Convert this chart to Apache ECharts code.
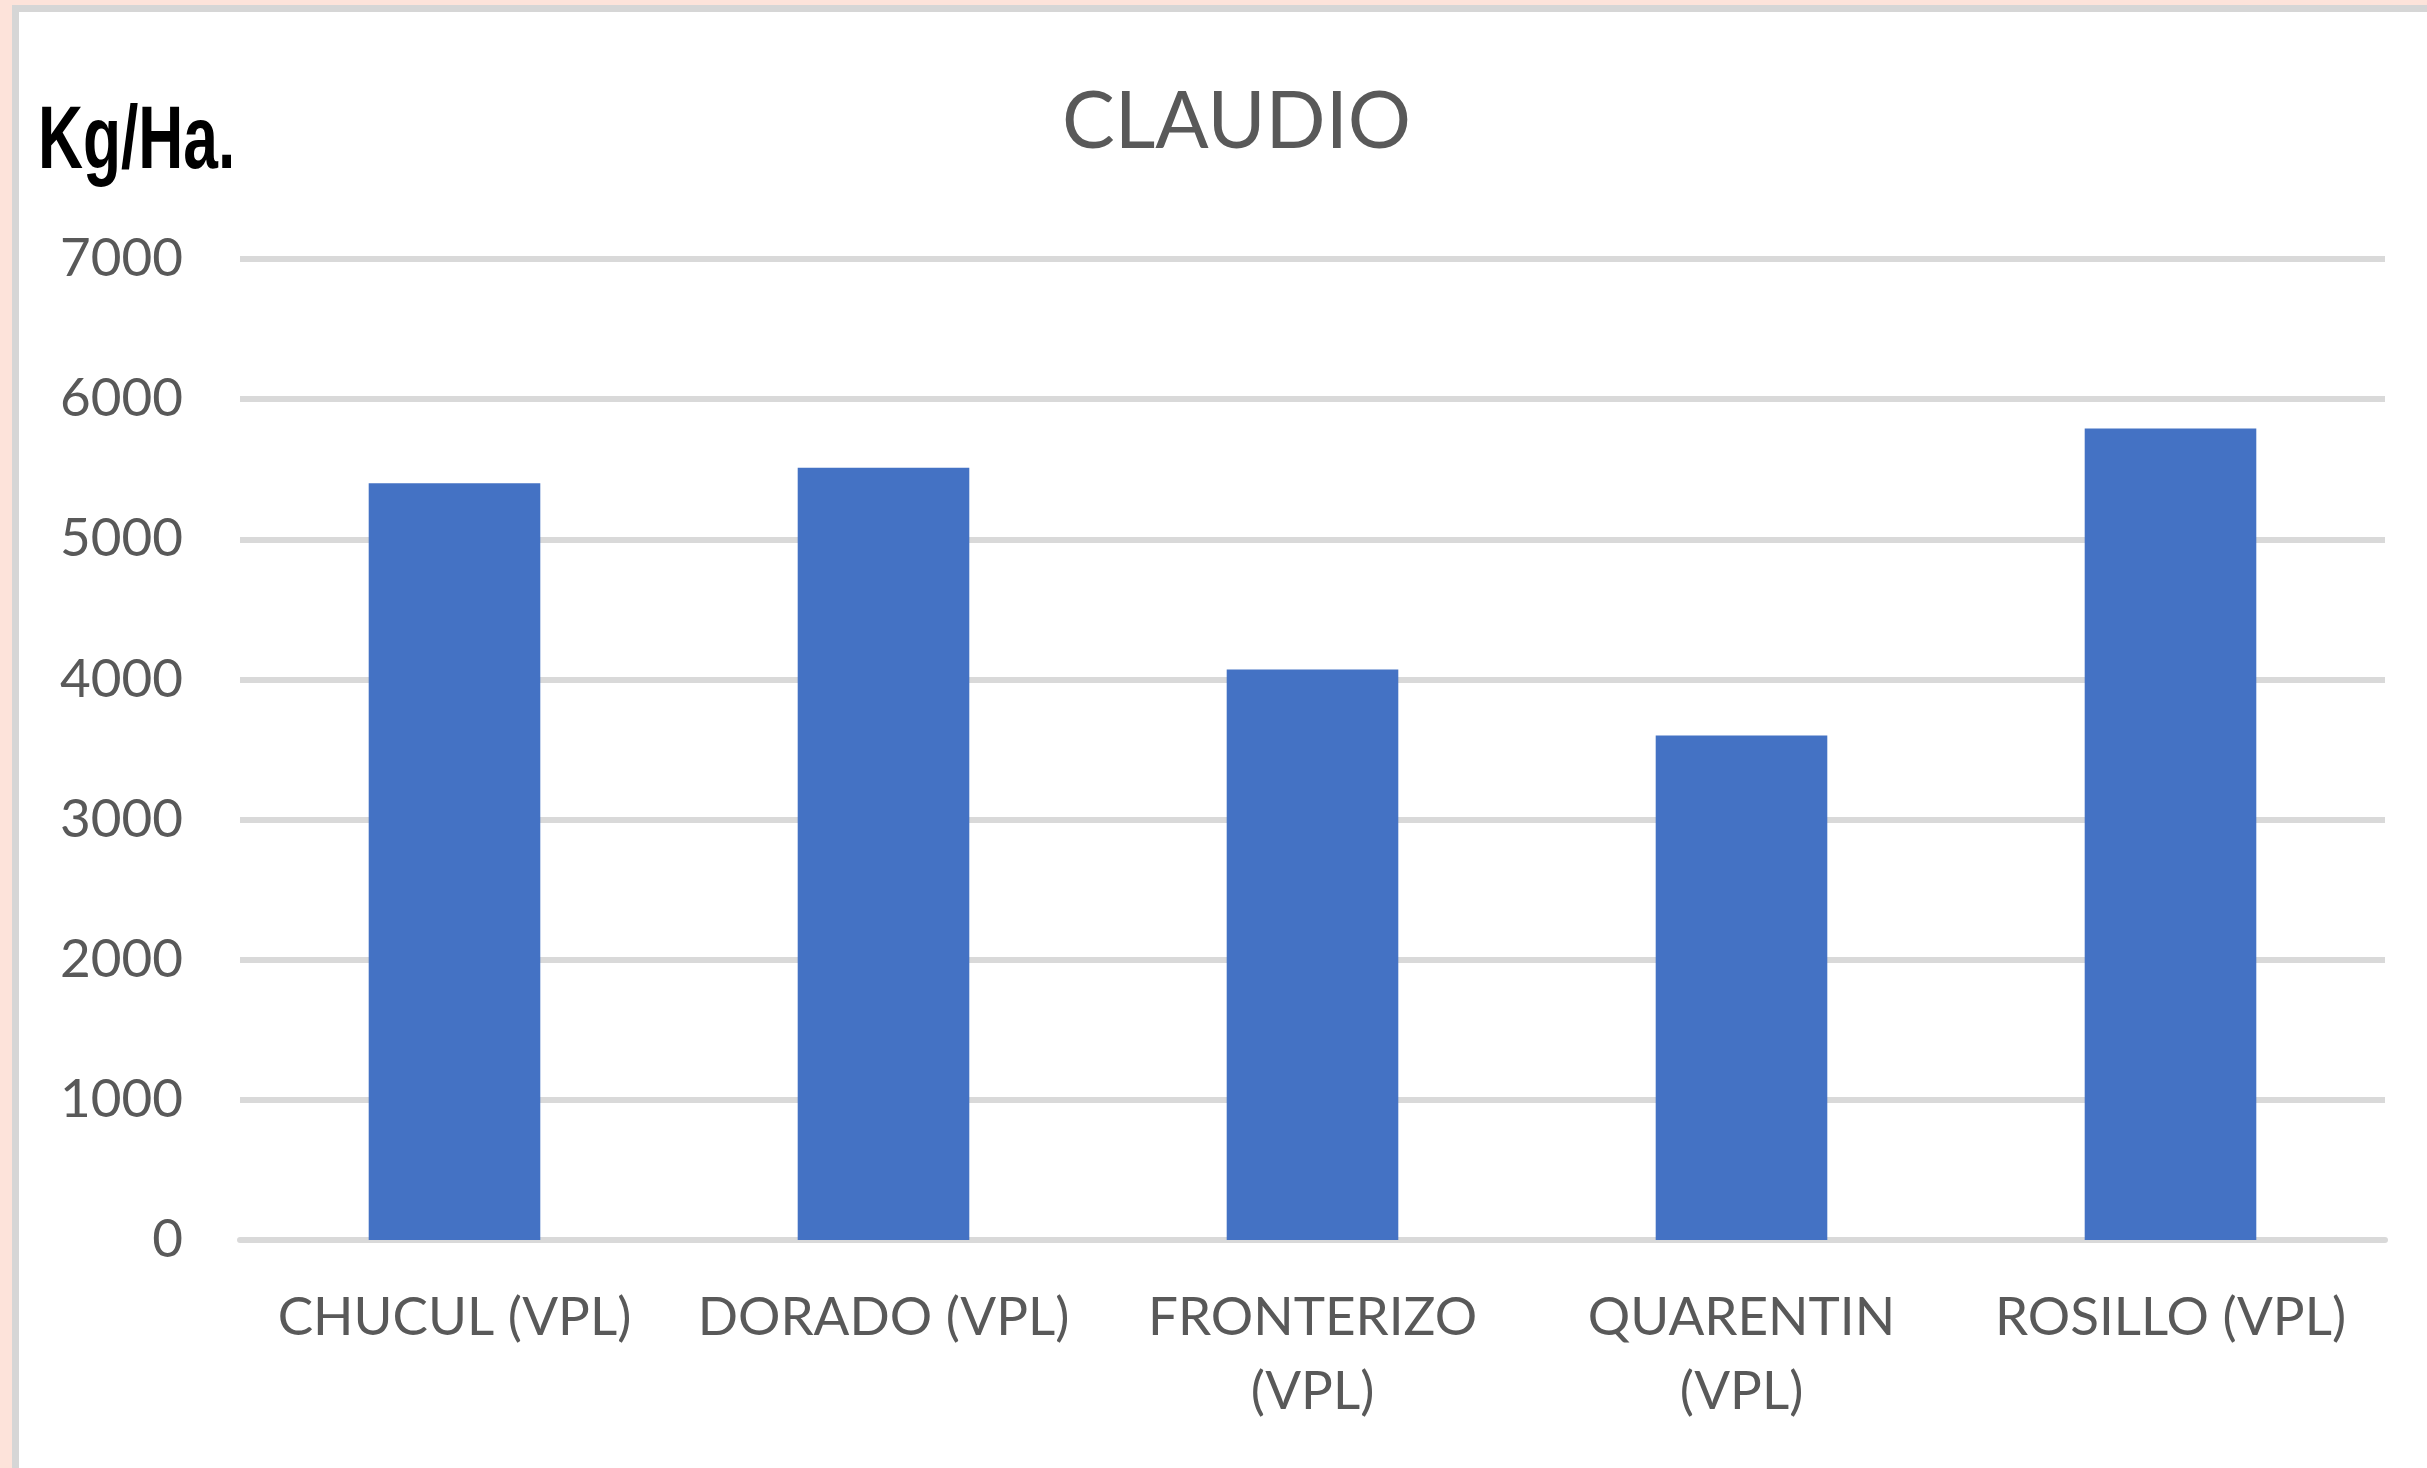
<!DOCTYPE html>
<html>
<head>
<meta charset="utf-8">
<script src="https://cdn.jsdelivr.net/npm/echarts@6/dist/echarts.min.js"></script>
<style>
  html, body { margin: 0; padding: 0; width: 2427px; height: 1468px; overflow: hidden; background: #fde3da; }
  #panel { position: absolute; left: 12px; top: 5px; right: 0; bottom: 0; background: #fff;
           border-left: 7px solid #d6d6d6; border-top: 7px solid #d6d6d6; }
  #chart { position: absolute; left: 0; top: 0; width: 2427px; height: 1468px; }
</style>
</head>
<body>
<div id="panel"></div>
<div id="chart"></div>
<script>
const categories = ["CHUCUL (VPL)", "DORADO (VPL)", "FRONTERIZO\n(VPL)", "QUARENTIN\n(VPL)", "ROSILLO (VPL)"];
const yields = [5400, 5510, 4070, 3600, 5790];
const yTicks = { min: 0, max: 7000, step: 1000 };

const textGray = "#595959";
const gridGray = "#d9d9d9";

const chart = echarts.init(document.getElementById("chart"));

chart.setOption({
  backgroundColor: "transparent",
  animation: false,
  title: {
    text: "CLAUDIO",
    left: 1057,
    top: 78,
    textStyle: { fontFamily: "Lato", fontSize: 79, fontWeight: "normal", color: textGray, lineHeight: 80 }
  },
  graphic: [{
    type: "text",
    left: 38,
    top: 99,
    style: {
      text: "Kg/Ha.",
      fontFamily: "'Liberation Sans Narrow', 'Liberation Sans', sans-serif",
      fontSize: 89,
      fontWeight: "bold",
      fill: "#000"
    },
    scaleX: 0.7
  }],
  grid: { left: 240, right: 42, top: 259, bottom: 228, containLabel: false },
  xAxis: {
    type: "category",
    data: categories,
    axisLine: { show: true, lineStyle: { color: gridGray, width: 6 } },
    axisTick: { show: false },
    axisLabel: {
      interval: 0,
      margin: 41,
      color: textGray,
      fontFamily: "Lato",
      fontSize: 53,
      lineHeight: 74
    }
  },
  yAxis: {
    type: "value",
    min: yTicks.min,
    max: yTicks.max,
    interval: yTicks.step,
    axisLine: { show: false },
    axisTick: { show: false },
    splitLine: { show: true, lineStyle: { color: gridGray, width: 6 } },
    axisLabel: {
      margin: 57,
      color: textGray,
      fontFamily: "Lato",
      fontSize: 53,
      formatter: function (v) { return String(v); }
    }
  },
  series: [{
    type: "bar",
    data: yields,
    barWidth: "40%",
    itemStyle: { color: "#4472c4" }
  }]
});

window.onresize = function () {
  chart.resize();
};
</script>
</body>
</html>
